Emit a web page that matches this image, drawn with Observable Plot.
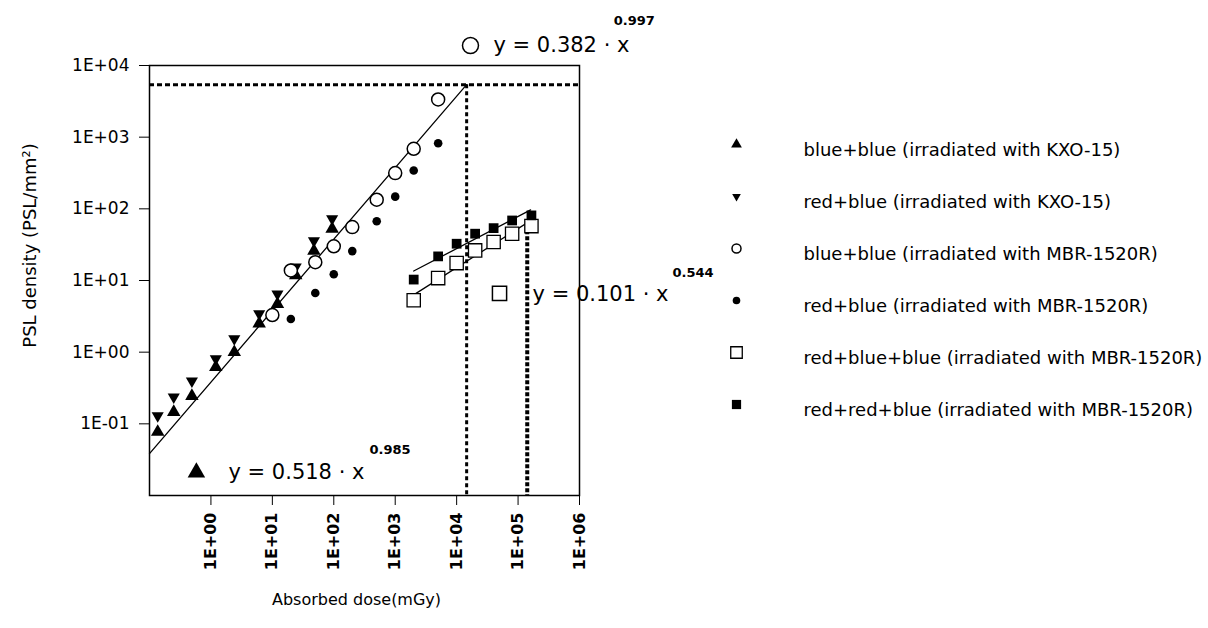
<!DOCTYPE html>
<html><head><meta charset="utf-8">
<script src="https://cdn.jsdelivr.net/npm/d3@7"></script>
<script src="https://cdn.jsdelivr.net/npm/@observablehq/plot@0.6"></script>
<style>
body{margin:0;background:#fff;}
#chart{position:relative;width:1208px;height:628px;background:#fff;}
#main{position:absolute;left:0;top:0;}
#legend{position:absolute;left:700px;top:110px;}
</style></head><body>
<div id="chart"><div id="main"></div><div id="legend"></div></div>
<script>
// ---------- data ----------
const seriesNames = [
  "blue+blue (irradiated with KXO-15)",
  "red+blue (irradiated with KXO-15)",
  "blue+blue (irradiated with MBR-1520R)",
  "red+blue (irradiated with MBR-1520R)",
  "red+blue+blue (irradiated with MBR-1520R)",
  "red+red+blue (irradiated with MBR-1520R)"
];
const kxoDose   = [0.136, 0.248, 0.49, 1.2, 2.4, 6.1, 12.1, 24, 47.5, 94];
const bbKxo     = [0.077, 0.146, 0.244, 0.62, 1.0, 2.5, 4.7, 11.8, 26, 52.6];
const rbKxo     = [0.13, 0.237, 0.395, 0.81, 1.54, 3.44, 6.5, 15.4, 36, 73];
const bbMbrDose = [10, 20, 50, 100, 200, 500, 1000, 2000, 5000];
const bbMbr     = [3.3, 13.8, 18, 30, 55.6, 134, 315, 689, 3360];
const rbMbrDose = [20, 50, 100, 200, 500, 1000, 2000, 5000];
const rbMbr     = [2.9, 6.7, 12.2, 25.7, 67, 148, 343, 824];
const sqDose    = [2000, 5000, 10000, 20000, 40000, 80000, 165000];
const rbbMbr    = [5.3, 10.8, 17.5, 26.3, 34.4, 45, 57.4];
const rrbMbr    = [10.3, 21.7, 32.6, 45, 53.8, 68.8, 81];

// power-law fits y = a * x^b
const fitCoef   = [0.382, 0.101, 0.45];
const fitExp    = [0.997, 0.544, 0.448];
const fitFrom   = [0.1, 2000, 2000];
const fitTo     = [14550, 160000, 160000];

// dashed guide lines
const guideY     = [5400];
const guideX     = [14550, 141000];
const guideXTop  = [5400, 60];

// equation annotations
const eqText   = ["y = 0.382 · x", "y = 0.518 · x", "y = 0.101 · x"];
const eqPower  = ["0.997", "0.985", "0.544"];
const eqSymX   = [1.68e4, 0.58, 4.99e4];
const eqSymY   = [1.9e4, 0.021, 6.6];
const eqTextX  = [3.98e4, 1.93, 1.72e5];
const eqTextY  = [1.9e4, 0.021, 6.4];
const eqPowX   = [3.6e6, 381, 3.27e7];
const eqPowY   = [4.25e4, 0.0438, 12.9];

const xTicks = [1, 10, 100, 1e3, 1e4, 1e5, 1e6];
const xTickLabels = ["1E+00", "1E+01", "1E+02", "1E+03", "1E+04", "1E+05", "1E+06"];
const yTicks = [0.1, 1, 10, 100, 1e3, 1e4];
const yTickLabels = ["1E-01", "1E+00", "1E+01", "1E+02", "1E+03", "1E+04"];
const xTitle = "Absorbed dose(mGy)";
const yTitle = "PSL density (PSL/mm²)";

// ---------- build ----------
const rows = (xs, ys) => xs.map((x, i) => ({x, y: ys[i]}));
const seriesRows = [
  rows(kxoDose, bbKxo), rows(kxoDose, rbKxo), rows(bbMbrDose, bbMbr),
  rows(rbMbrDose, rbMbr), rows(sqDose, rbbMbr), rows(sqDose, rrbMbr)
];
const seriesStyle = [
  {symbol: "triangle", fill: "black", stroke: "none", r: 5},
  {symbol: "triangle", fill: "black", stroke: "none", r: 4.5, rotate: 180},
  {symbol: "circle", fill: "white", stroke: "black", strokeWidth: 1.5, r: 6.5},
  {symbol: "circle", fill: "black", stroke: "none", r: 4.3},
  {symbol: "square", fill: "white", stroke: "black", strokeWidth: 1.3, r: 7.5},
  {symbol: "square", fill: "black", stroke: "none", r: 5.5}
];
const fitRows = fitCoef.map((a, k) => [fitFrom[k], fitTo[k]].map(x => ({x, y: a * Math.pow(x, fitExp[k]), k})));
const guideRows = guideX.map((x, i) => ({x, top: guideXTop[i], bottom: 0.01}));
const eqRows = eqText.map((t, i) => ({t, p: eqPower[i], sx: eqSymX[i], sy: eqSymY[i], tx: eqTextX[i], ty: eqTextY[i], px: eqPowX[i], py: eqPowY[i]}));
const eqSymStyle = [
  {symbol: "circle", fill: "white", stroke: "black", strokeWidth: 1.5, r: 8},
  {symbol: "triangle", fill: "black", stroke: "none", r: 6.5},
  {symbol: "square", fill: "white", stroke: "black", strokeWidth: 1.5, r: 8}
];

const marks = [
  Plot.axisX(xTicks, {tickSize: 10, tickPadding: 7, tickRotate: -90, label: null, fontWeight: "bold", fontSize: 16,
    tickFormat: d => xTickLabels[xTicks.indexOf(d)]}),
  Plot.axisY(yTicks, {tickSize: 10, tickPadding: 10, label: null,
    tickFormat: d => yTickLabels[yTicks.indexOf(d)]}),
  Plot.frame({stroke: "black", strokeWidth: 1.5}),
  ...fitRows.map(r => Plot.line(r, {x: "x", y: "y", stroke: "black", strokeWidth: 1.3})),
  Plot.ruleY(guideY, {stroke: "black", strokeWidth: 3, strokeDasharray: "5,3"}),
  Plot.ruleX(guideRows.slice(0, 1), {x: "x", y1: "top", y2: "bottom", stroke: "black", strokeWidth: 3, strokeDasharray: "4,3"}),
  Plot.ruleX(guideRows.slice(1), {x: "x", y1: "top", y2: "bottom", stroke: "black", strokeWidth: 4, strokeDasharray: "4,2"}),
  ...seriesRows.map((r, i) => Plot.dot(r, {x: "x", y: "y", ...seriesStyle[i]})),
  ...eqRows.map((d, i) => Plot.dot([d], {x: "sx", y: "sy", ...eqSymStyle[i]})),
  Plot.text(eqRows, {x: "tx", y: "ty", text: "t", textAnchor: "start", fontSize: 21}),
  Plot.text(eqRows, {x: "px", y: "py", text: "p", textAnchor: "start", fontSize: 13, fontWeight: "bold"}),
  Plot.text([xTitle], {text: d => d, frameAnchor: "bottom", dy: 109, dx: -8, fontSize: 16}),
  Plot.text([yTitle], {text: d => d, frameAnchor: "left", textAnchor: "middle", rotate: -90, dx: -119, dy: -35, fontSize: 18})
];

const main = Plot.plot({
  width: 720, height: 628,
  marginLeft: 149, marginRight: 141, marginTop: 65, marginBottom: 133,
  style: {fontFamily: "DejaVu Sans", fontSize: "17px", color: "black", background: "white", overflow: "visible"},
  x: {type: "log", domain: [0.1, 1e6]},
  y: {type: "log", domain: [0.01, 1e4]},
  marks
});
document.getElementById("main").appendChild(main);

const legendStyle = [
  {symbol: "triangle", fill: "black", stroke: "none", r: 4},
  {symbol: "triangle", fill: "black", stroke: "none", r: 3.2, rotate: 180},
  {symbol: "circle", fill: "white", stroke: "black", strokeWidth: 1.5, r: 4.5},
  {symbol: "circle", fill: "black", stroke: "none", r: 3.8},
  {symbol: "square", fill: "white", stroke: "black", strokeWidth: 1.3, r: 6.5},
  {symbol: "square", fill: "black", stroke: "none", r: 5.2}
];
const legend = Plot.plot({
  width: 508, height: 330, margin: 0,
  style: {fontFamily: "DejaVu Sans", fontSize: "18px", color: "black", background: "transparent", overflow: "visible"},
  y: {type: "point", domain: seriesNames, range: [40, 300], padding: 0, axis: null},
  marks: [
    ...seriesNames.map((n, i) => Plot.dot([n], {y: d => d, frameAnchor: "left", dx: 36, dy: -6, ...legendStyle[i]})),
    Plot.text(seriesNames, {y: d => d, text: d => d, frameAnchor: "left", dx: 103, textAnchor: "start", fontSize: 18})
  ]
});
document.getElementById("legend").appendChild(legend);
</script>
</body></html>
